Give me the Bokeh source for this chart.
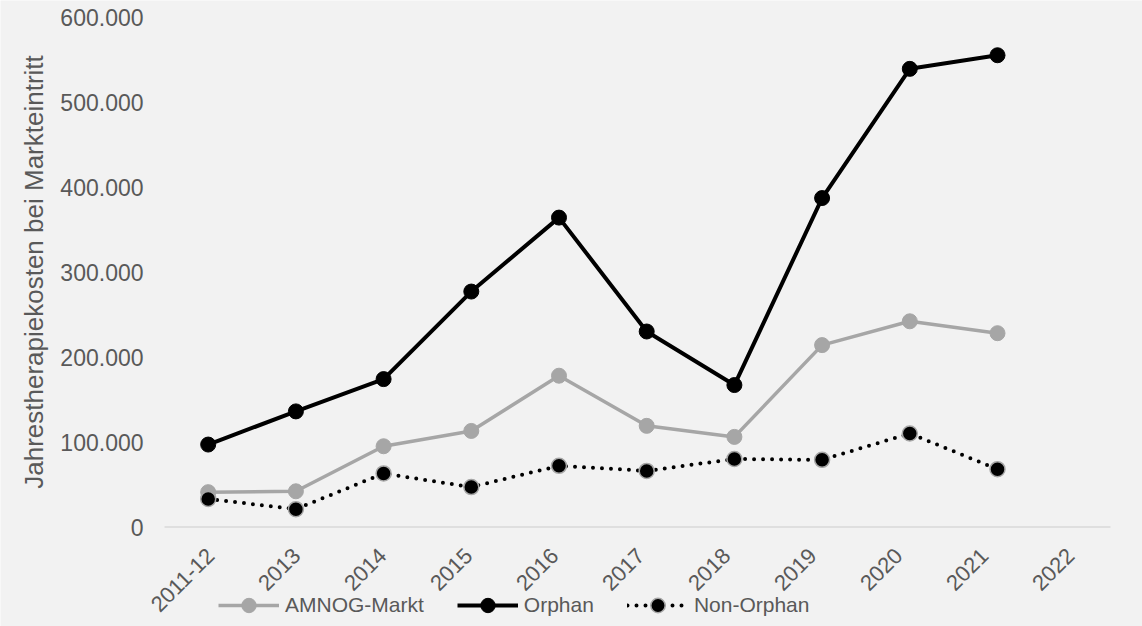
from bokeh.plotting import figure
from bokeh.models import Range1d, Legend, LegendItem
from bokeh.core.properties import value
from bokeh.embed import file_html
from bokeh.resources import INLINE
import math

# Jahrestherapiekosten bei Markteintritt (EUR), nach Jahr des Markteintritts
categories = ["2011-12", "2013", "2014", "2015", "2016", "2017", "2018", "2019", "2020", "2021", "2022"]
amnog_markt = [41000, 42000, 95000, 113000, 178000, 119000, 106000, 214000, 242000, 228000]
orphan = [97000, 136000, 174000, 277000, 364000, 230000, 167000, 387000, 539000, 555000]
non_orphan = [33000, 21000, 63000, 47000, 72000, 66000, 80000, 79000, 110000, 68000]

y_ticks = [0, 100000, 200000, 300000, 400000, 500000, 600000]
y_tick_labels = ["0", "100.000", "200.000", "300.000", "400.000", "500.000", "600.000"]
y_title = "Jahrestherapiekosten bei Markteintritt"

BG = "#f2f2f2"
TEXT = "#595959"
GREY = "#a6a6a6"
AXIS = "#d9d9d9"
FONT = "Liberation Sans"

W, H = 1142, 626
# plot area in pixels
LEFT, RIGHT, TOP, BOTTOM = 164, 1110, 16.5, 526.5
Y_MAX = 600000
PX_PER_UNIT = (BOTTOM - TOP) / Y_MAX

xs = list(range(len(categories)))
n = len(amnog_markt)

# series positions: first point at 207.7 px, step 87.7 px
X0_PX, STEP_PX = 207.7, 87.7
x_start = (0 - X0_PX) / STEP_PX
x_end = (W - X0_PX) / STEP_PX
y_start = -(H - BOTTOM) / PX_PER_UNIT
y_end = BOTTOM / PX_PER_UNIT

# category band scale of the axis (11 bands over the axis line)
band = (RIGHT - LEFT) / len(categories)
lab_start = -0.5 - LEFT / band
lab_end = len(categories) - 0.5 + (W - RIGHT) / band

p = figure(
    width=W, height=H,
    x_range=Range1d(x_start, x_end),
    y_range=Range1d(y_start, y_end),
    x_axis_location=None, y_axis_location=None,
    output_backend="svg", toolbar_location=None,
    min_border=0,
)
p.extra_x_ranges = {"cat": Range1d(lab_start, lab_end)}
p.background_fill_color = BG
p.border_fill_color = BG
p.outline_line_color = None
p.grid.visible = False

# category axis line along y = 0
p.segment(x0=[-0.5], y0=[0], x1=[len(categories) - 0.5], y1=[0],
          line_color=AXIS, line_width=1.5, x_range_name="cat")

# category labels, rotated 45 degrees
p.text(x=xs, y=[0] * len(xs), text=categories, x_range_name="cat",
       angle=math.pi / 4, text_align="right", text_baseline="middle",
       x_offset=3, y_offset=25,
       text_font=value(FONT), text_font_size="22px", text_color=TEXT)

# value axis labels
p.text(x=[-0.5] * len(y_ticks), y=y_ticks, text=y_tick_labels, x_range_name="cat",
       text_align="right", text_baseline="middle", x_offset=-21,
       text_font=value(FONT), text_font_size="23px", text_color=TEXT)

# value axis title
p.text(x=[-0.5], y=[Y_MAX / 2], text=[y_title], x_range_name="cat",
       angle=math.pi / 2, text_align="center", text_baseline="middle",
       x_offset=-131,
       text_font=value(FONT), text_font_size="26px", text_color=TEXT)

# AMNOG-Markt
l1 = p.line(xs[:n], amnog_markt, line_color=GREY, line_width=3.5)
s1 = p.scatter(xs[:n], amnog_markt, size=15, fill_color=GREY, line_color=GREY)

# Orphan
l2 = p.line(xs[:n], orphan, line_color="black", line_width=4)
s2 = p.scatter(xs[:n], orphan, size=15, fill_color="black", line_color="black")

# Non-Orphan (dotted)
l3 = p.line(xs[:n], non_orphan, line_color="black", line_width=4,
            line_dash="0 9", line_cap="round")
s3 = p.scatter(xs[:n], non_orphan, size=15, fill_color="black",
               line_color=GREY, line_width=1.5)

legend = Legend(
    items=[
        LegendItem(label="AMNOG-Markt", renderers=[l1, s1]),
        LegendItem(label="Orphan", renderers=[l2, s2]),
        LegendItem(label="Non-Orphan", renderers=[l3, s3]),
    ],
    orientation="horizontal",
    location=(218, 3),
    padding=0, margin=0, spacing=33,
    glyph_width=61, glyph_height=36, label_height=22,
    label_standoff=6,
    label_text_font=FONT, label_text_font_size="21px",
    label_text_color=TEXT,
    border_line_color=None, background_fill_alpha=0,
)
p.add_layout(legend, "center")

open("out.html", "w").write(file_html(p, INLINE))
